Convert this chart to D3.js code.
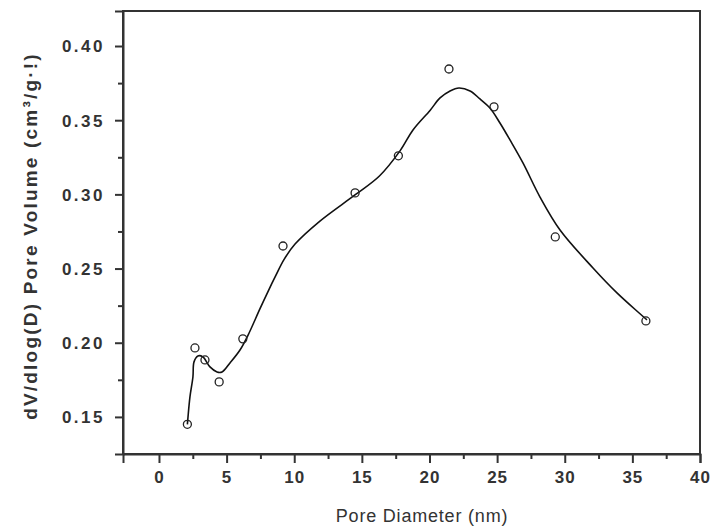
<!DOCTYPE html>
<html>
<head>
<meta charset="utf-8">
<script src="https://cdn.jsdelivr.net/npm/d3@7"></script>
<style>
  body { margin: 0; background: #fff; }
  text { font-family: "Liberation Sans", Arial, sans-serif; fill: #333; }
</style>
</head>
<body>
<script>
// measured points: pore diameter (nm) and dV/dlog(D)
const diameter = [2.1, 2.66, 3.4, 4.45, 6.2, 9.17, 14.5, 17.7, 21.44, 24.77, 29.3, 36.0];
const poreVolume = [0.145, 0.1965, 0.1884, 0.1736, 0.2026, 0.2652, 0.301, 0.326, 0.3845, 0.359, 0.2713, 0.2147];

// smoothed curve
const fitX = [2.1, 2.14, 2.29, 2.51, 2.59, 2.88, 3.25, 3.77, 4.29, 4.66, 5.25, 5.99, 6.58, 7.47, 8.06,
  8.65, 9.24, 10.06, 11.9, 14.49, 16.3, 17.82, 18.78, 20.04, 20.78, 21.52, 22.18, 23.0, 23.73, 24.47,
  25.21, 25.95, 26.91, 28.17, 29.65, 32.09, 33.86, 36.08];
const fitY = [0.145, 0.1493, 0.1635, 0.1769, 0.1871, 0.1911, 0.1904, 0.1837, 0.1803, 0.1803, 0.1864,
  0.1951, 0.2050, 0.2230, 0.2345, 0.2455, 0.2560, 0.2665, 0.2820, 0.2996, 0.3124, 0.3293, 0.3434,
  0.3566, 0.3650, 0.3697, 0.3717, 0.3697, 0.3643, 0.3582, 0.3481, 0.3367, 0.3212, 0.2982, 0.2760,
  0.2504, 0.2336, 0.2154];

const xTicks = [0, 5, 10, 15, 20, 25, 30, 35, 40];
const yTicks = [0.15, 0.20, 0.25, 0.30, 0.35, 0.40];

const margin = {top: 11, right: 11, bottom: 77, left: 123};
const width = 711 - margin.left - margin.right;
const height = 531 - margin.top - margin.bottom;

const x = d3.scaleLinear().domain([-2.66, 40]).range([0, width]);
const y = d3.scaleLinear().domain([0.125, 0.4236]).range([height, 0]);

const svg = d3.select('body').append('svg')
    .attr('width', 711)
    .attr('height', 531);

const main = svg.append('g')
    .attr('transform', 'translate(' + margin.left + ',' + margin.top + ')');

// frame
main.append('rect')
    .attr('x', 0).attr('y', 0)
    .attr('width', width).attr('height', height)
    .attr('fill', 'none')
    .attr('stroke', '#333')
    .attr('stroke-width', 2);

// x axis
const xAxis = d3.axisBottom(x).tickValues(xTicks).tickFormat(d3.format('d')).tickSize(9).tickPadding(8);
const gx = main.append('g')
    .attr('transform', 'translate(0,' + height + ')')
    .call(xAxis);
main.append('g')
    .attr('transform', 'translate(0,' + height + ')')
    .call(d3.axisBottom(x).tickValues(xTicks.slice(0, -1).map(d => d + 2.5)).tickFormat('').tickSize(5))
    .call(g => g.select('.domain').remove());

// y axis
const yAxis = d3.axisLeft(y).tickValues(yTicks).tickFormat(d3.format('.2f')).tickSize(8).tickPadding(10);
const gy = main.append('g').call(yAxis);
main.append('g')
    .call(d3.axisLeft(y).tickValues([0.175, 0.225, 0.275, 0.325, 0.375]).tickFormat('').tickSize(5))
    .call(g => g.select('.domain').remove());

main.selectAll('.domain').attr('stroke', '#333').attr('stroke-width', 2);
main.selectAll('.tick line').attr('stroke', '#333').attr('stroke-width', 2);
main.selectAll('.tick text')
    .attr('font-family', '"Liberation Sans", Arial, sans-serif')
    .attr('font-weight', 'bold')
    .attr('font-size', 17)
    .attr('fill', '#333')
    .style('letter-spacing', '1px');
gy.selectAll('.tick text').attr('dy', '0.35em').style('letter-spacing', '2.5px');

// curve
const line = d3.line()
    .x((d, i) => x(fitX[i]))
    .y((d, i) => y(fitY[i]))
    .curve(d3.curveCatmullRom);

main.append('path')
    .datum(fitX)
    .attr('d', line)
    .attr('fill', 'none')
    .attr('stroke', '#111')
    .attr('stroke-width', 1.6);

// circles
main.append('g').selectAll('circle')
    .data(diameter)
    .enter()
    .append('circle')
    .attr('cx', d => x(d))
    .attr('cy', (d, i) => y(poreVolume[i]))
    .attr('r', 4)
    .attr('fill', 'none')
    .attr('stroke', '#222')
    .attr('stroke-width', 1.3);

// axis titles
svg.append('text')
    .attr('x', 422)
    .attr('y', 522)
    .attr('text-anchor', 'middle')
    .attr('font-size', 18)
    .style('letter-spacing', '0.8px')
    .text('Pore Diameter (nm)');

svg.append('text')
    .attr('transform', 'translate(37,236) rotate(-90)')
    .attr('text-anchor', 'middle')
    .attr('font-size', 19)
    .attr('font-weight', 'bold')
    .style('letter-spacing', '2.2px')
    .text('dV/dlog(D) Pore Volume (cm³/g·!)');
</script>
</body>
</html>
